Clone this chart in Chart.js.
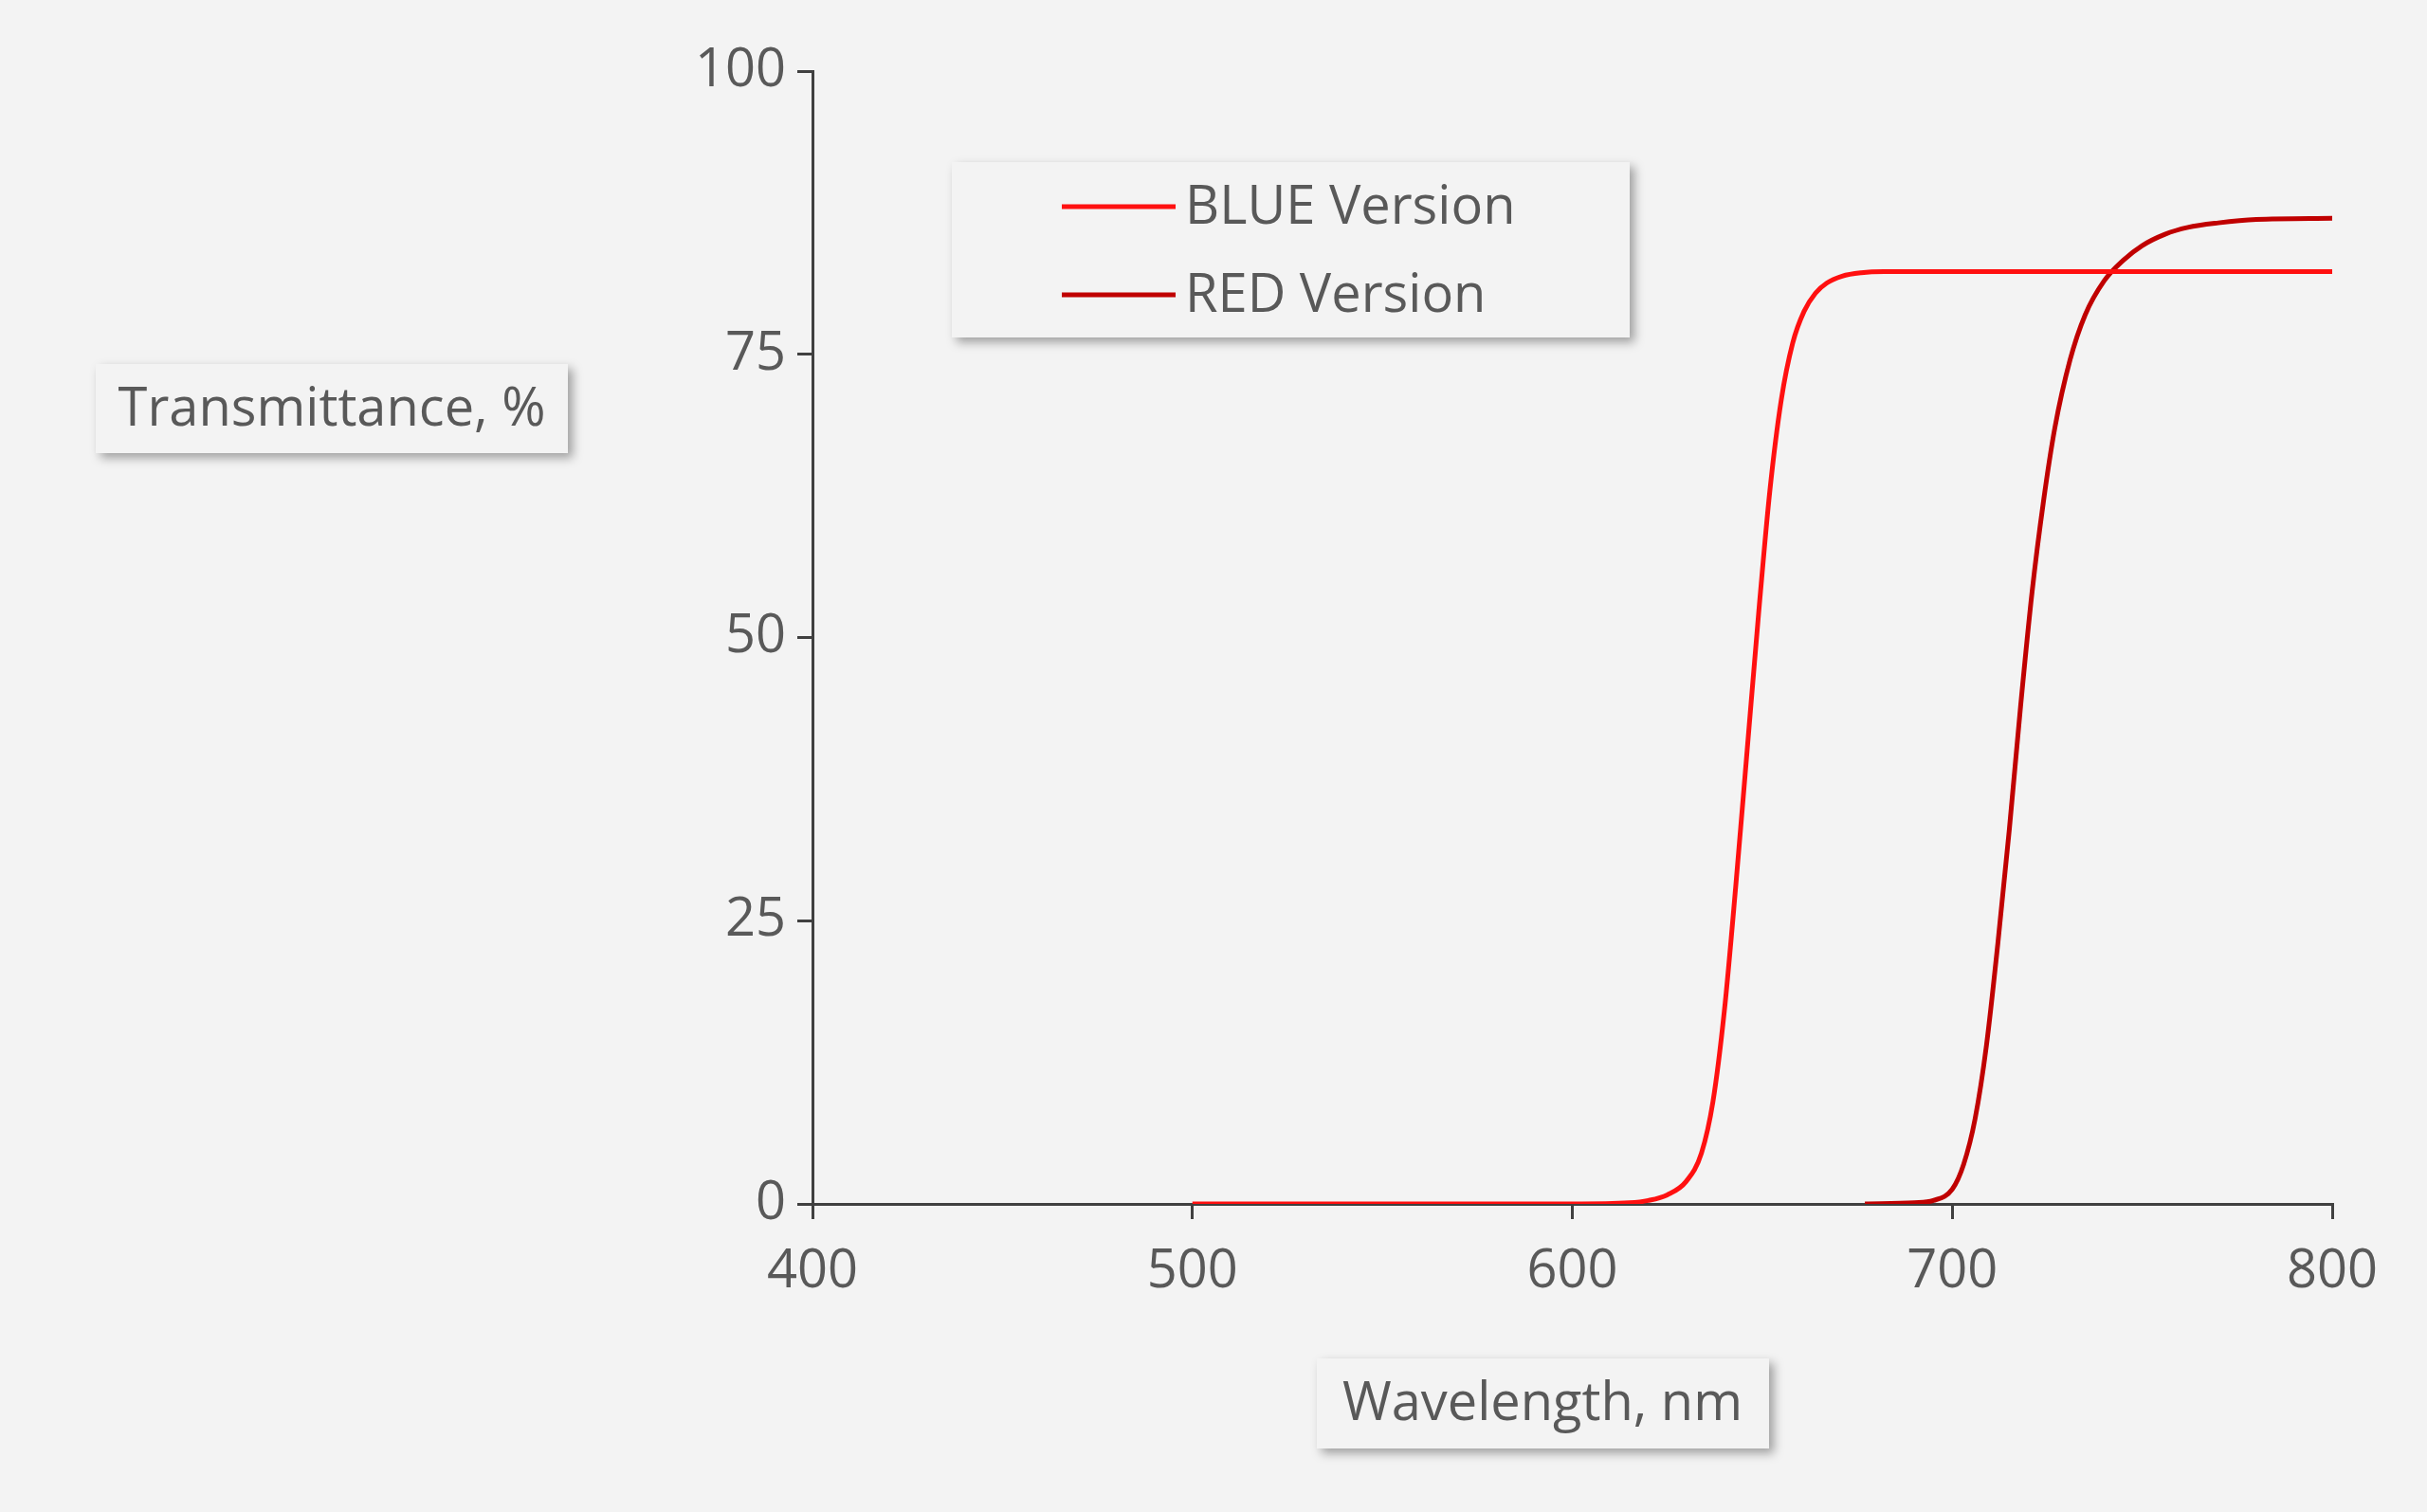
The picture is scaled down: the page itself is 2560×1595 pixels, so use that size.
<!DOCTYPE html>
<html><head><meta charset="utf-8">
<script src="https://cdn.jsdelivr.net/npm/chart.js@4/dist/chart.umd.min.js"></script>
<style>html,body{margin:0;padding:0;background:#f3f3f3;}#w{width:2560px;height:1595px;}</style>
</head><body><div id="w"><canvas id="c"></canvas></div>
<script>
const blueX = [500,600,615,620,625,630,634,637,640,643,646,649,652,655,658,661,664,667,671,676,682,700,800];
const blueY = [0,0,0.1,0.3,0.8,2,4.5,9,17,28,40,52,63,71,76,78.8,80.4,81.3,81.9,82.2,82.3,82.3,82.3];
const redX = [677,690,695,700,703,706,709,712,715,718,721,724,727,731,735,740,745,750,756,762,770,780,800];
const redY = [0,0.1,0.3,1.3,3.5,7.5,14,23,33,44,54,62,68.5,74.5,78.5,81.5,83.3,84.6,85.6,86.2,86.6,86.9,87];
const xTicks = [400,500,600,700,800];
const yTicks = [0,25,50,75,100];
const seriesNames = ["BLUE Version","RED Version"];
const seriesColors = ["#ff1010","#c00000"];
const axisTitles = ["Wavelength, nm","Transmittance, %"];

const FONT = "'Open Sans', 'Noto Sans', sans-serif";
const TXT = "#595959";
function pts(xs,ys){return xs.map((x,i)=>({x:x,y:ys[i]}));}
function box(ctx,x,y,w,h){
  ctx.save();ctx.shadowColor="rgba(0,0,0,0.35)";ctx.shadowBlur=10;ctx.shadowOffsetX=5;ctx.shadowOffsetY=5;
  ctx.fillStyle="#f3f3f3";ctx.fillRect(x,y,w,h);ctx.restore();
}
const deco = {id:'deco', afterDraw(chart){
  const ctx=chart.ctx; ctx.save();
  ctx.font="56px "+FONT; ctx.fillStyle=TXT; ctx.textBaseline="middle";
  box(ctx,1004,171,715,185);
  seriesNames.forEach((n,i)=>{const y=218+i*93;
    ctx.strokeStyle=seriesColors[i];ctx.lineWidth=5;ctx.beginPath();ctx.moveTo(1120,y);ctx.lineTo(1240,y);ctx.stroke();
    ctx.fillStyle=TXT;ctx.textAlign="left";ctx.fillText(n,1250,y+2);});
  box(ctx,101,384,498,94); ctx.textAlign="center"; ctx.fillText(axisTitles[1],350,433);
  box(ctx,1389,1433,477,95); ctx.fillText(axisTitles[0],1627,1482);
  ctx.restore();}};
new Chart(document.getElementById('c'),{
  type:'scatter',
  data:{datasets:[
    {label:seriesNames[0],data:pts(blueX,blueY),showLine:true,borderColor:seriesColors[0],borderWidth:5,pointRadius:0,cubicInterpolationMode:'monotone'},
    {label:seriesNames[1],data:pts(redX,redY),showLine:true,borderColor:seriesColors[1],borderWidth:5,pointRadius:0,cubicInterpolationMode:'monotone'}]},
  options:{responsive:true,maintainAspectRatio:false,animation:false,
    layout:{padding:{top:75,right:100,left:0,bottom:0}},
    plugins:{legend:{display:false},tooltip:{enabled:false}},
    scales:{
      x:{type:'linear',min:400,max:800,afterBuildTicks(s){s.ticks=xTicks.map(v=>({value:v}));},
        afterFit(s){s.height=325;},
        grid:{display:true,drawOnChartArea:false,drawTicks:true,tickLength:16,color:"#404040",lineWidth:3},
        border:{color:"#404040",width:3},
        ticks:{color:TXT,font:{size:56,family:FONT},padding:22,maxRotation:0}},
      y:{min:0,max:100,afterBuildTicks(s){s.ticks=yTicks.map(v=>({value:v}));},
        afterFit(s){s.width=857;},
        grid:{display:true,drawOnChartArea:false,drawTicks:true,tickLength:16,color:"#404040",lineWidth:3},
        border:{color:"#404040",width:3},
        ticks:{color:TXT,font:{size:56,family:FONT},padding:12}}
    }},
  plugins:[deco]
});
</script></body></html>
